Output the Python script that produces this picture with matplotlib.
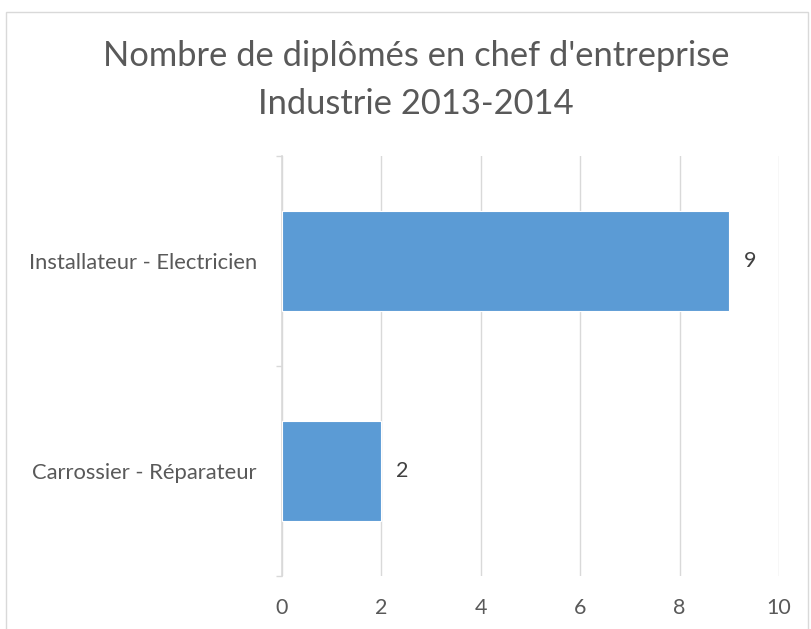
import matplotlib
matplotlib.use("Agg")
import matplotlib.pyplot as plt
from matplotlib.patches import Rectangle

# données du graphique
categories = ["Carrossier - Réparateur", "Installateur - Electricien"]
valeurs = [2, 9]
ticks_x = [0, 2, 4, 6, 8, 10]
titre = "Nombre de diplômés en chef d'entreprise\nIndustrie 2013-2014"

plt.rcParams['font.family'] = ['Lato', 'DejaVu Sans']

gris = '#595959'
grille = '#D9D9D9'

fig = plt.figure(figsize=(8.11, 6.29), dpi=100)
ax = fig.add_axes([282 / 811, 1 - 576 / 629, (779 - 282) / 811, (576 - 156) / 629])

# cadre du graphique
fig.patches.append(Rectangle((6 / 811, -0.1), (808 - 6) / 811, 1.1 - 12 / 629,
                             transform=fig.transFigure, fill=False,
                             edgecolor=grille, linewidth=1))

pos = list(range(len(categories)))
ax.barh(pos, valeurs, height=0.478, color='#5B9BD5', edgecolor='white',
        linewidth=0.8, zorder=3)
for p, v in zip(pos, valeurs):
    ax.text(v + 0.3, p, str(v), va='center', ha='left', fontsize=15.5, color='#404040')

ax.set_xlim(0, 10)
ax.set_ylim(-0.5, len(categories) - 0.5)
ax.set_xticks(ticks_x)
ax.set_xticklabels([str(t) for t in ticks_x])
ax.set_yticks(pos)
ax.set_yticklabels(categories)
ax.set_yticks([-0.5, 0.5, 1.5], minor=True)

ax.grid(axis='x', color=grille, linewidth=1, zorder=0)
ax.set_axisbelow(True)
for s in ['top', 'right', 'bottom']:
    ax.spines[s].set_visible(False)
ax.spines['left'].set_color(grille)
ax.spines['left'].set_linewidth(1.2)

ax.tick_params(axis='x', length=0, pad=16, labelsize=15.5, labelcolor=gris)
ax.tick_params(axis='y', which='major', length=0, pad=18, labelsize=15.8, labelcolor=gris)
ax.tick_params(axis='y', which='minor', length=4.5, width=1, color=grille)

fig.text(416 / 811, 1 - 80 / 629, titre, ha='center', va='center',
         fontsize=24.8, color=gris, linespacing=1.58)

fig.savefig('out.png', dpi=100)
